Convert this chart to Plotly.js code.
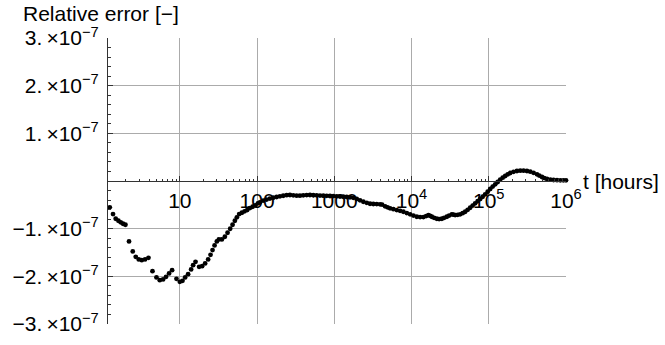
<!DOCTYPE html>
<html>
<head>
<meta charset="utf-8">
<script src="https://cdn.plot.ly/plotly-3.0.1.min.js"></script>
<style>
  html, body { margin: 0; padding: 0; background: #ffffff; }
  #chart { width: 665px; height: 345px; }
</style>
</head>
<body>
<div id="chart"></div>
<script>
// Simulation time in hours
const tHours = [
  1.10, 1.24, 1.366, 1.48, 1.604, 1.719, 1.841, 1.978,
  2.202, 2.459, 2.689, 2.941, 3.217, 3.55, 3.929,
  4.428, 4.989, 5.505, 6.074, 6.644, 7.265, 7.948,
  9.06, 10.0, 10.84, 11.72, 12.81, 14.01, 14.87, 15.98,
  17.79, 19.46, 21.28, 23.28, 25.0, 26.54, 28.18, 30.18, 32.04,
  35.04, 38.32, 41.53, 44.89, 48.22, 51.64, 54.82, 58.71, 63.63,
  68.99, 74.54, 80.79, 87.6, 94.6,
  102.6, 108.9, 120.2, 133.0, 146.8, 162.0, 179.3, 197.9, 218.4, 241.7,
  266.7, 294.3, 325.7, 359.3, 396.6, 439.0, 484.5, 534.6, 591.7, 653.0,
  720.6, 797.6, 880.2, 971.2, 1075, 1186, 1309, 1449, 1599, 1765,
  1953, 2155, 2378, 2633, 2904, 3204, 3546, 3914, 4155, 4545,
  4896, 5277, 5824, 6446, 7112, 7848, 8686, 9585, 10578, 11706,
  12917, 14256, 15453, 16552, 17414, 18319, 19622, 21270, 22783, 24693,
  26446, 28665, 30699, 33285, 34910, 36721, 39570, 42640, 45950, 49510,
  53330, 57460, 61920, 66710, 71880, 77450, 83430, 89900, 96900, 104400,
  112500, 121200, 130600, 140700, 151600, 163300, 176000, 189600, 209300, 231700,
  255700, 282100, 312300, 344500, 380200, 420900, 450700, 488500, 523300, 567200,
  626000, 690700, 764500, 843600, 922600, 1000000
];

// Relative error, in units of 1e-7
const relErrE7 = [
  -0.33, -0.553, -0.693, -0.792, -0.834, -0.868, -0.897, -0.918,
  -1.267, -1.477, -1.59, -1.645, -1.66, -1.645, -1.611,
  -1.891, -2.023, -2.08, -2.065, -2.011, -1.939, -1.87,
  -2.053, -2.116, -2.095, -2.023, -1.954, -1.855, -1.765, -1.695,
  -1.8, -1.786, -1.729, -1.645, -1.548, -1.45, -1.351, -1.267, -1.225,
  -1.225, -1.17, -1.086, -1.002, -0.918, -0.834, -0.763, -0.693, -0.666,
  -0.637, -0.609, -0.567, -0.54, -0.511,
  -0.468, -0.447, -0.41, -0.389, -0.368, -0.351, -0.336, -0.321, -0.309, -0.298,
  -0.294, -0.3, -0.307, -0.307, -0.3, -0.296, -0.294, -0.298, -0.3, -0.305,
  -0.309, -0.311, -0.315, -0.317, -0.321, -0.326, -0.33, -0.336, -0.342, -0.353,
  -0.378, -0.405, -0.435, -0.458, -0.477, -0.483, -0.485, -0.489, -0.494, -0.532,
  -0.553, -0.574, -0.592, -0.609, -0.626, -0.645, -0.672, -0.7, -0.725, -0.75,
  -0.756, -0.756, -0.735, -0.714, -0.731, -0.75, -0.773, -0.792, -0.798, -0.792,
  -0.773, -0.75, -0.725, -0.7, -0.706, -0.714, -0.71, -0.7, -0.676, -0.645,
  -0.605, -0.561, -0.515, -0.468, -0.422, -0.378, -0.33, -0.279, -0.225, -0.168,
  -0.118, -0.069, -0.021, 0.027, 0.069, 0.105, 0.139, 0.168, 0.193, 0.21,
  0.216, 0.216, 0.21, 0.195, 0.172, 0.141, 0.113, 0.084, 0.061, 0.042,
  0.029, 0.021, 0.017, 0.015, 0.015, 0.015
];

// Axis ticks
const xMajorVals = [10, 100, 1000, 1e4, 1e5, 1e6];
const xMajorText = ['10', '100', '1000', '10<sup>4</sup>', '10<sup>5</sup>', '10<sup>6</sup>'];
const xMinorVals = [
  2, 3, 4, 5, 6, 7, 8, 9,
  20, 30, 40, 50, 60, 70, 80, 90,
  200, 300, 400, 500, 600, 700, 800, 900,
  2000, 3000, 4000, 5000, 6000, 7000, 8000, 9000,
  2e4, 3e4, 4e4, 5e4, 6e4, 7e4, 8e4, 9e4,
  2e5, 3e5, 4e5, 5e5, 6e5, 7e5, 8e5, 9e5
];
const yMajorVals = [-3, -2, -1, 1, 2, 3];
const yMajorText = [
  '−3.\u2009×10<sup>−7</sup>', '−2.\u2009×10<sup>−7</sup>', '−1.\u2009×10<sup>−7</sup>',
  '1.\u2009×10<sup>−7</sup>', '2.\u2009×10<sup>−7</sup>', '3.\u2009×10<sup>−7</sup>'
];

const FONT = 'Liberation Sans, Arial, Helvetica, sans-serif';
const AXIS = '#333333';
const GRID = '#ababab';

const trace = {
  type: 'scatter',
  mode: 'markers',
  x: tHours,
  y: relErrE7,
  marker: { color: '#000000', size: 4.8 },
  cliponaxis: false,
  hoverinfo: 'x+y'
};

const layout = {
  width: 665,
  height: 345,
  margin: { l: 108, r: 99, t: 38, b: 21 },
  paper_bgcolor: '#ffffff',
  plot_bgcolor: '#ffffff',
  showlegend: false,
  font: { family: FONT, size: 21, color: '#000000' },
  xaxis: {
    type: 'log',
    range: [0.0705, 6],
    anchor: 'free',
    position: 0.5,
    showline: true,
    linecolor: AXIS,
    linewidth: 1,
    ticks: 'inside',
    ticklen: 5,
    tickwidth: 1,
    tickcolor: AXIS,
    tickmode: 'array',
    tickvals: xMajorVals,
    ticktext: xMajorText,
    ticklabelstandoff: 1,
    tickfont: { family: FONT, size: 21, color: '#000000' },
    showgrid: true,
    gridcolor: GRID,
    gridwidth: 1,
    zeroline: false,
    minor: {
      tickmode: 'array',
      tickvals: xMinorVals,
      ticks: 'inside',
      ticklen: 2.5,
      tickwidth: 1,
      tickcolor: AXIS,
      showgrid: false
    }
  },
  yaxis: {
    range: [-3, 3],
    showline: true,
    linecolor: AXIS,
    linewidth: 1,
    ticks: 'inside',
    ticklen: 5,
    tickwidth: 1,
    tickcolor: AXIS,
    tickmode: 'array',
    tickvals: yMajorVals,
    ticktext: yMajorText,
    ticklabelstandoff: 4,
    tickfont: { family: FONT, size: 21, color: '#000000' },
    showgrid: true,
    gridcolor: GRID,
    gridwidth: 1,
    zeroline: false,
    minor: {
      tick0: 0,
      dtick: 0.2,
      ticks: 'inside',
      ticklen: 3,
      tickwidth: 1,
      tickcolor: AXIS,
      showgrid: false
    }
  },
  annotations: [
    {
      text: 'Relative error [−]',
      xref: 'paper', yref: 'paper',
      x: 0, y: 1,
      xanchor: 'left', yanchor: 'middle',
      xshift: -87, yshift: 25,
      showarrow: false,
      font: { family: FONT, size: 21, color: '#000000' }
    },
    {
      text: 't [hours]',
      xref: 'paper', yref: 'paper',
      x: 1, y: 0.5,
      xanchor: 'left', yanchor: 'middle',
      xshift: 15, yshift: 0,
      showarrow: false,
      font: { family: FONT, size: 21, color: '#000000' }
    }
  ]
};

Plotly.newPlot('chart', [trace], layout, { staticPlot: true, displayModeBar: false });
</script>
</body>
</html>
